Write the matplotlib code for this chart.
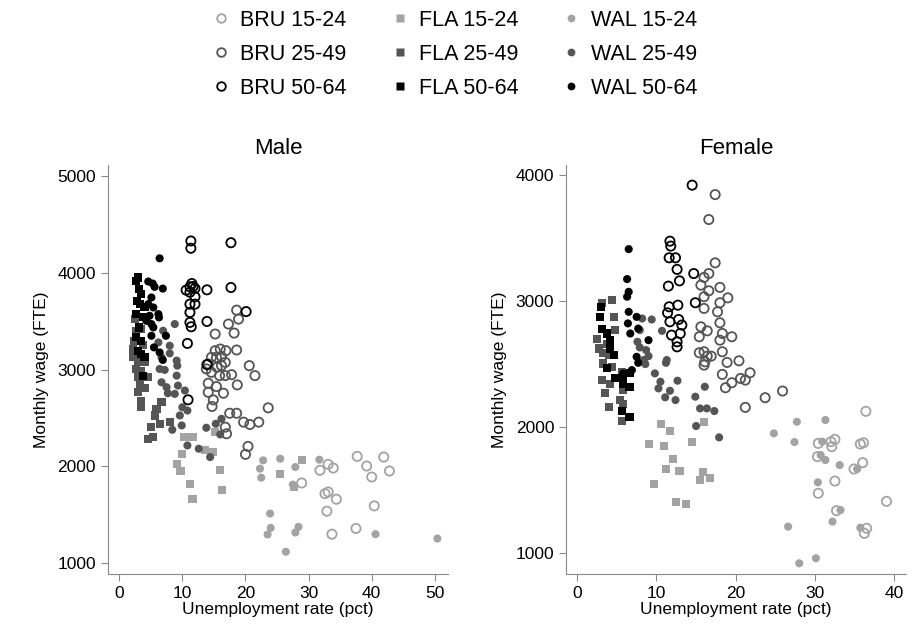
import matplotlib
matplotlib.use("Agg")
import matplotlib.pyplot as plt
from matplotlib.lines import Line2D

plt.rcParams['font.family'] = ['Liberation Sans', 'DejaVu Sans']

# Male panel: (unemployment rate, monthly wage)
m_bru_15_24 = [(37.7, 2103), (41.9, 2096), (39.2, 2003), (42.8, 1952), (40.0, 1890), (33.1, 2021),
               (33.9, 1983), (31.8, 1959), (28.9, 1828), (32.6, 1718), (33.1, 1735), (34.4, 1660),
               (32.9, 1536), (40.4, 1591), (37.5, 1358), (33.7, 1299)]
m_bru_25_49 = [(18.6, 3615), (18.9, 3522), (17.3, 3471), (18.2, 3378), (15.2, 3368), (15.2, 3196),
               (16.0, 3213), (16.9, 3196), (18.6, 3203), (14.6, 3127), (15.4, 3127), (16.2, 3134),
               (14.1, 3059), (13.8, 3007), (14.6, 2972), (15.5, 3024), (16.2, 3041), (16.8, 3075),
               (15.9, 2938), (16.8, 2938), (17.8, 2948), (20.6, 3041), (21.5, 2938), (14.1, 2859),
               (15.4, 2825), (18.7, 2842), (14.1, 2766), (16.5, 2756), (14.9, 2687), (14.7, 2619),
               (17.5, 2549), (18.6, 2549), (19.7, 2457), (20.7, 2433), (22.1, 2457), (23.6, 2605),
               (16.8, 2405), (17.0, 2337), (20.4, 2206), (20.0, 2124)]
m_bru_50_64 = [(11.35, 4330), (11.35, 4255), (17.7, 4312), (10.6, 3822), (11.2, 3856), (11.7, 3860),
               (12.0, 3840), (11.5, 3890), (11.2, 3800), (12.0, 3753), (12.0, 3677), (11.2, 3677),
               (11.2, 3591), (11.2, 3488), (11.4, 3443), (10.8, 3271), (13.9, 3825), (17.7, 3849),
               (13.9, 3498), (20.1, 3600), (10.9, 2688), (13.9, 3052)]
m_fla_15_24 = [(10.2, 2302), (11.6, 2302), (10.0, 2131), (9.2, 2028), (9.7, 1952), (11.2, 1814),
               (11.6, 1660), (16.0, 1959), (16.3, 1753), (13.6, 2165), (14.8, 2148), (15.2, 2354),
               (25.5, 1918), (28.9, 2069), (27.7, 1787)]
m_fla_25_49 = [(2.5, 3523), (2.6, 3402), (3.5, 3419), (2.2, 3213), (2.2, 3127), (3.0, 3075),
               (4.0, 3075), (2.7, 3007), (3.5, 2990), (3.0, 2921), (4.6, 2921), (3.0, 2766),
               (4.0, 2811), (3.5, 2680), (3.5, 2611), (6.7, 2663), (5.9, 2594), (5.6, 2526),
               (6.4, 2440), (8.0, 2457), (5.1, 2405), (5.4, 2302), (4.5, 2285), (3.25, 2852),
               (2.3, 3300), (3.8, 3250)]
m_fla_50_64 = [(3.0, 3952), (2.7, 3918), (3.1, 3832), (3.5, 3780), (2.8, 3711), (3.25, 3677),
               (4.0, 3643), (2.7, 3574), (3.8, 3540), (3.1, 3436), (2.7, 3333), (3.5, 3299),
               (3.0, 3196), (3.5, 3162), (4.0, 3127), (3.7, 2938)]
m_wal_15_24 = [(25.5, 2079), (27.9, 1993), (31.7, 2069), (27.5, 1811), (28.4, 1374), (27.9, 1316),
               (26.4, 1117), (40.6, 1299), (50.4, 1254), (22.8, 2062), (22.3, 1976), (22.5, 1883),
               (23.9, 1512), (24.0, 1364), (23.5, 1296)]
m_wal_25_49 = [(8.8, 3471), (6.95, 3402), (6.2, 3281), (8.0, 3247), (6.7, 3127), (8.0, 3168),
               (9.1, 3093), (9.2, 3041), (6.4, 3007), (7.2, 2997), (9.1, 2938), (10.8, 2216),
               (12.6, 2182), (14.4, 2096), (13.8, 2399), (16.0, 2330), (16.2, 2491), (15.3, 2440),
               (9.9, 2423), (8.4, 2378), (9.6, 2526), (10.0, 2611), (10.8, 2577), (9.3, 2835),
               (10.4, 2784), (7.5, 2818), (7.7, 2756), (6.7, 2869), (8.8, 2749)]
m_wal_50_64 = [(6.4, 4151), (4.6, 3911), (5.3, 3890), (5.6, 3856), (6.9, 3838), (5.1, 3746),
               (4.6, 3677), (5.4, 3643), (6.2, 3574), (6.3, 3540), (4.8, 3557), (5.1, 3471),
               (5.4, 3436), (5.1, 3350), (7.4, 3350), (5.5, 3230), (6.4, 3178), (6.9, 3100),
               (4.3, 3505)]

# Female panel
f_bru_15_24 = [(36.4, 2125), (30.4, 1870), (32.0, 1884), (32.5, 1902), (32.1, 1844), (35.7, 1865),
               (36.1, 1875), (30.3, 1765), (36.0, 1717), (34.9, 1667), (32.5, 1571), (30.4, 1474),
               (39.0, 1410), (32.7, 1336), (36.5, 1196), (36.2, 1156)]
f_bru_25_49 = [(17.4, 3846), (16.6, 3648), (17.4, 3304), (16.6, 3219), (16.0, 3188), (15.6, 3127),
               (18.0, 3109), (16.6, 3082), (16.0, 3035), (19.0, 3026), (16.0, 2942), (18.0, 2987),
               (17.7, 2915), (18.0, 2828), (15.6, 2796), (16.4, 2764), (15.4, 2717), (18.3, 2743),
               (19.5, 2717), (18.0, 2690), (15.4, 2590), (16.0, 2598), (16.4, 2563), (16.9, 2563),
               (16.1, 2518), (16.0, 2492), (18.3, 2598), (18.9, 2513), (20.4, 2526), (18.3, 2418),
               (19.5, 2352), (18.7, 2312), (20.6, 2386), (21.2, 2373), (21.8, 2431), (23.7, 2233),
               (25.9, 2286), (21.2, 2156)]
f_bru_50_64 = [(14.5, 3921), (11.7, 3476), (11.8, 3437), (11.6, 3344), (12.4, 3344), (12.6, 3252),
               (12.9, 3161), (11.5, 3119), (14.7, 3219), (14.9, 2987), (11.6, 2955), (12.7, 2968),
               (11.4, 2907), (11.7, 2836), (12.8, 2854), (13.2, 2810), (11.9, 2730), (13.0, 2743),
               (12.6, 2677), (12.6, 2637)]
f_fla_15_24 = [(10.6, 2024), (11.7, 1968), (9.1, 1862), (11.0, 1849), (14.5, 1884), (16.0, 2042),
               (12.1, 1746), (11.2, 1667), (12.9, 1653), (15.9, 1640), (15.5, 1579), (16.7, 1593),
               (9.7, 1548), (12.5, 1407), (13.7, 1386)]
f_fla_25_49 = [(3.1, 2987), (4.4, 3008), (4.6, 2875), (4.8, 2770), (2.8, 2624), (3.3, 2585),
               (4.0, 2571), (3.3, 2505), (4.4, 2479), (5.6, 2439), (3.1, 2373), (4.2, 2341),
               (5.8, 2294), (3.5, 2272), (4.0, 2161), (5.4, 2214), (5.6, 2050), (5.8, 2183),
               (2.5, 2700), (3.8, 2660)]
f_fla_50_64 = [(3.0, 2955), (2.9, 2875), (3.1, 2782), (3.75, 2743), (4.2, 2690), (4.1, 2624),
               (4.6, 2571), (3.75, 2466), (4.8, 2387), (5.8, 2387), (6.7, 2426), (5.6, 2130),
               (6.6, 2077), (6.6, 2315), (5.8, 2341)]
f_wal_15_24 = [(27.7, 2042), (31.3, 2056), (24.8, 1950), (27.4, 1881), (30.9, 1884), (30.7, 1778),
               (31.3, 1738), (33.1, 1698), (35.3, 1667), (30.35, 1561), (33.2, 1341), (32.2, 1249),
               (35.7, 1201), (26.6, 1209), (30.1, 958), (28.0, 918)]
f_wal_25_49 = [(16.1, 2320), (15.5, 2148), (16.35, 2148), (17.3, 2127), (17.9, 1918), (14.9, 2241),
               (15.0, 2008), (9.4, 2854), (8.2, 2862), (10.7, 2764), (7.6, 2677), (7.9, 2632),
               (8.7, 2611), (9.0, 2563), (8.4, 2532), (8.6, 2500), (11.3, 2532), (11.2, 2510),
               (9.8, 2426), (10.5, 2360), (10.25, 2307), (11.7, 2288), (11.1, 2236), (12.4, 2214),
               (12.65, 2368), (7.9, 2770)]
f_wal_50_64 = [(6.5, 3413), (6.3, 3175), (6.5, 3074), (6.3, 3035), (6.5, 2915), (6.4, 2823),
               (6.7, 2743), (7.5, 2875), (7.7, 2782), (9.0, 2690), (7.5, 2558), (7.7, 2510),
               (5.8, 2426), (6.9, 2452)]

labels = ["BRU 15-24", "BRU 25-49", "BRU 50-64",
          "FLA 15-24", "FLA 25-49", "FLA 50-64",
          "WAL 15-24", "WAL 25-49", "WAL 50-64"]
male = [m_bru_15_24, m_bru_25_49, m_bru_50_64, m_fla_15_24, m_fla_25_49, m_fla_50_64,
        m_wal_15_24, m_wal_25_49, m_wal_50_64]
female = [f_bru_15_24, f_bru_25_49, f_bru_50_64, f_fla_15_24, f_fla_25_49, f_fla_50_64,
          f_wal_15_24, f_wal_25_49, f_wal_50_64]

greys = ['#a3a3a3', '#555555', '#000000']
# region -> (marker, hollow?, size)
styles = [('o', True, 44), ('s', False, 34), ('o', False, 34)]


def draw(ax, groups):
    for i, pts in enumerate(groups):
        marker, hollow, size = styles[i // 3]
        col = greys[i % 3]
        xs = [p[0] for p in pts]
        ys = [p[1] for p in pts]
        if hollow:
            ax.scatter(xs, ys, s=size, marker=marker, facecolors='none',
                       edgecolors=col, linewidths=1.3)
        else:
            ax.scatter(xs, ys, s=size, marker=marker, color=col, edgecolors='none')


fig = plt.figure(figsize=(9.22, 6.25), dpi=100)
ax1 = fig.add_axes([0.117, 0.0816, 0.369, 0.654])
ax2 = fig.add_axes([0.614, 0.0816, 0.369, 0.654])

draw(ax1, male)
draw(ax2, female)

ax1.set_xlim(-1.8, 52.1)
ax1.set_ylim(887, 5113)
ax1.set_xticks([0, 10, 20, 30, 40, 50])
ax1.set_yticks([1000, 2000, 3000, 4000, 5000])
ax1.set_title("Male", fontsize=16, pad=8)

ax2.set_xlim(-1.39, 41.5)
ax2.set_ylim(833, 4079)
ax2.set_xticks([0, 10, 20, 30, 40])
ax2.set_yticks([1000, 2000, 3000, 4000])
ax2.set_title("Female", fontsize=16, pad=8)

for ax in (ax1, ax2):
    ax.spines['top'].set_visible(False)
    ax.spines['right'].set_visible(False)
    ax.spines['left'].set_color('#8a8a8a')
    ax.spines['bottom'].set_color('#8a8a8a')
    ax.tick_params(direction='out', length=5, color='#8a8a8a', labelsize=12.5)
    ax.set_xlabel("Unemployment rate (pct)", fontsize=12.5, labelpad=1)
    ax.set_ylabel("Monthly wage (FTE)", fontsize=12.5, labelpad=6)

handles = []
for i in range(9):
    marker, hollow, size = styles[i // 3]
    col = greys[i % 3]
    if hollow:
        h = Line2D([], [], linestyle='none', marker=marker, markersize=6.2,
                   markerfacecolor='none', markeredgecolor=col, markeredgewidth=1.3)
    else:
        h = Line2D([], [], linestyle='none', marker=marker, markersize=5.6,
                   markerfacecolor=col, markeredgecolor='none')
    handles.append(h)

fig.legend(handles, labels, ncol=3, loc='upper center', bbox_to_anchor=(0.492, 1.015),
           frameon=False, fontsize=15.5, handlelength=1.0, handletextpad=0.4,
           columnspacing=1.95, labelspacing=0.6)

fig.savefig("out.png", dpi=100)
